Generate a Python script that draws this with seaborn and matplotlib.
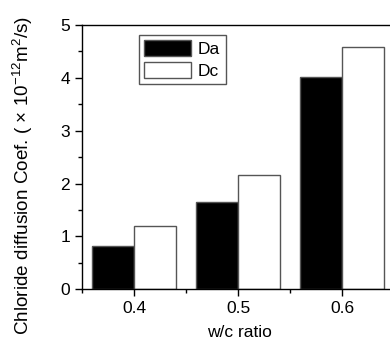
import matplotlib
matplotlib.use("Agg")
import matplotlib.pyplot as plt
import seaborn as sns
import pandas as pd
from matplotlib.ticker import MultipleLocator

wc = [0.4, 0.5, 0.6]
da = [0.82, 1.66, 4.01]
dc = [1.20, 2.17, 4.58]
series = ["Da", "Dc"]

df = pd.DataFrame({
    "wc": wc + wc,
    "val": da + dc,
    "series": ["Da"] * 3 + ["Dc"] * 3,
})

sns.set_style("ticks")
plt.rcParams["font.family"] = ["Liberation Sans", "DejaVu Sans"]
plt.rcParams["mathtext.fontset"] = "custom"
plt.rcParams["mathtext.rm"] = "Liberation Sans"
plt.rcParams["mathtext.it"] = "Liberation Sans"
for k in ["text.color", "axes.labelcolor", "xtick.color", "ytick.color", "axes.edgecolor"]:
    plt.rcParams[k] = "black"

fig = plt.figure(figsize=(3.9, 3.47), dpi=100)
ax = fig.add_axes([82 / 390, 1 - 289.3 / 347, 312 / 390, 264.3 / 347])

sns.barplot(data=df, x="wc", y="val", hue="series", hue_order=series,
            native_scale=True, palette=["black", "white"], width=0.8,
            edgecolor="#555555", linewidth=1.0, ax=ax, errorbar=None,
            saturation=1)

ax.set_xlim(0.35, 0.65)
ax.set_ylim(0, 5)
ax.set_xticks([0.4, 0.5, 0.6])
ax.set_xticklabels(["0.4", "0.5", "0.6"])
ax.xaxis.set_minor_locator(MultipleLocator(0.05))
ax.yaxis.set_major_locator(MultipleLocator(1))
ax.yaxis.set_minor_locator(MultipleLocator(0.5))
ax.tick_params(which="major", direction="out", length=5, width=1, labelsize=12.5,
               color="black", labelcolor="black")
ax.tick_params(which="minor", direction="out", length=3, width=1, color="black")
for s in ax.spines.values():
    s.set_visible(True)
    s.set_color("black")
    s.set_linewidth(1)

ax.set_xlabel("w/c ratio", fontsize=12.5, color="black")
ax.xaxis.set_label_coords(0.506, -0.135)
ax.set_ylabel("Chloride diffusion Coef. ( × 10$^{-12}$m$^{2}$/s)", fontsize=13.6, color="black")
ax.yaxis.set_label_coords(-0.152, 0.43)

h, l = ax.get_legend_handles_labels()
leg = ax.legend(h, l, loc="upper left", bbox_to_anchor=(0.183, 0.962), fontsize=12.5,
                frameon=True, fancybox=False, edgecolor="#555555", framealpha=1,
                handlelength=2.7, handleheight=1.0, borderpad=0.3, labelspacing=0.3,
                handletextpad=0.4, borderaxespad=0)
for t in leg.get_texts():
    t.set_color("black")

fig.savefig("out.png", dpi=100)
